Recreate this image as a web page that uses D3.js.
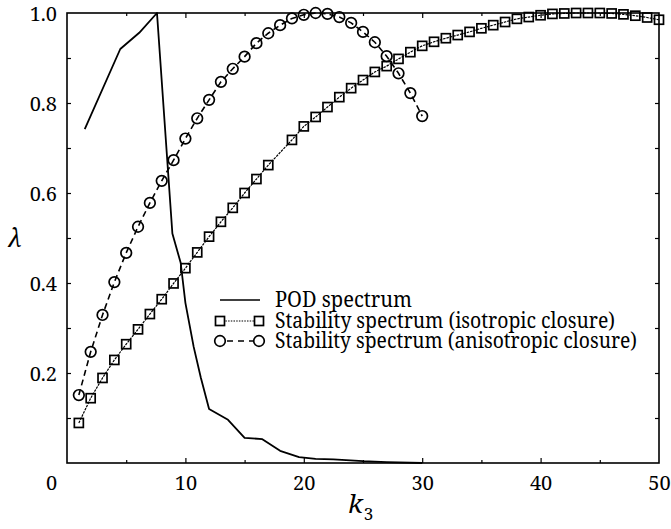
<!DOCTYPE html>
<html>
<head>
<meta charset="utf-8">
<script src="https://cdn.jsdelivr.net/npm/d3@7"></script>
<style>
  html, body { margin: 0; padding: 0; background: #fff; }
  svg { display: block; }
  text { font-family: "Noto Serif", "DejaVu Serif", serif; fill: #000; }
</style>
</head>
<body>
<script>
// ---- data ----
const podK = [1.5, 4.5, 6.1, 7.6, 8.9, 9.6, 10.0, 10.7, 11.3, 12.0, 13.6, 15.0, 16.5, 18.0, 19.6, 21.0, 22.5, 25.0, 27.0, 30.0];
const podV = [0.742, 0.92, 0.956, 1.0, 0.51, 0.445, 0.356, 0.258, 0.19, 0.12, 0.096, 0.056, 0.053, 0.027, 0.013, 0.009, 0.008, 0.004, 0.002, 0.0];

const isoK = [1,2,3,4,5,6,7,8,9,10,11,12,13,14,15,16,17,19,20,21,22,23,24,25,26,27,28,29,30,31,32,33,34,35,36,37,38,39,40,41,42,43,44,45,46,47,48,49,50];
const isoV = [0.089,0.144,0.189,0.229,0.264,0.297,0.331,0.364,0.399,0.433,0.468,0.503,0.536,0.567,0.600,0.631,0.662,0.718,0.748,0.769,0.791,0.813,0.833,0.851,0.869,0.882,0.898,0.913,0.927,0.936,0.944,0.951,0.958,0.966,0.973,0.980,0.987,0.991,0.995,0.998,0.999,1.0,1.0,1.0,0.999,0.997,0.994,0.990,0.985];

const anisoK = [1,2,3,4,5,6,7,8,9,10,11,12,13,14,15,16,17,18,19,20,21,22,23,24,25,26,27,28,29,30];
const anisoV = [0.151,0.247,0.329,0.402,0.467,0.525,0.578,0.627,0.673,0.721,0.766,0.807,0.847,0.876,0.903,0.933,0.955,0.973,0.988,0.996,1.0,0.998,0.991,0.978,0.958,0.935,0.904,0.866,0.822,0.771];

const xMajor = [0, 10, 20, 30, 40, 50];
const xMinor = [5, 15, 25, 35, 45];
const yMajor = [0.2, 0.4, 0.6, 0.8, 1.0];
const yMinor = [0.1, 0.3, 0.5, 0.7, 0.9];
const legendLabels = ["POD spectrum", "Stability spectrum (isotropic closure)", "Stability spectrum (anisotropic closure)"];

// ---- layout ----
const W = 671, H = 529;
const L = 67, R = 659, T = 13, B = 463;
const FONT = '"Noto Serif", "DejaVu Serif", serif';

const svg = d3.select("body").append("svg").attr("width", W).attr("height", H);
const x = d3.scaleLinear().domain([0, 50]).range([L, R]);
const y = d3.scaleLinear().domain([0, 1]).range([B, T]);

// frame
svg.append("rect").attr("x", L).attr("y", T).attr("width", R - L).attr("height", B - T)
  .attr("fill", "none").attr("stroke", "#000").attr("stroke-width", 1.6);

function styleAxis(g) {
  g.attr("font-family", FONT);
  g.select(".domain").remove();
  g.selectAll(".tick line").attr("stroke", "#000").attr("stroke-width", 1.2);
  g.selectAll(".tick text").attr("font-size", 20).attr("fill", "#000");
}

// bottom axis
const gb = svg.append("g").attr("transform", `translate(0,${B})`)
  .call(d3.axisBottom(x).tickValues(xMajor).tickSizeInner(-5).tickSizeOuter(0).tickPadding(13).tickFormat(d3.format("d")));
styleAxis(gb);
gb.selectAll(".tick").filter(d => d === 0).select("text").attr("dx", -16);
gb.selectAll(".tick").filter(d => d === 0 || d === 50).select("line").remove();
const gbm = svg.append("g").attr("transform", `translate(0,${B})`)
  .call(d3.axisBottom(x).tickValues(xMinor).tickSizeInner(-3).tickSizeOuter(0).tickFormat(""));
styleAxis(gbm);
// top axis ticks
const gt = svg.append("g").attr("transform", `translate(0,${T})`)
  .call(d3.axisTop(x).tickValues(xMajor.filter(d => d > 0 && d < 50)).tickSizeInner(-5).tickSizeOuter(0).tickFormat(""));
styleAxis(gt);
const gtm = svg.append("g").attr("transform", `translate(0,${T})`)
  .call(d3.axisTop(x).tickValues(xMinor).tickSizeInner(-3).tickSizeOuter(0).tickFormat(""));
styleAxis(gtm);

// left axis
const gl = svg.append("g").attr("transform", `translate(${L},0)`)
  .call(d3.axisLeft(y).tickValues(yMajor).tickSizeInner(-4).tickSizeOuter(0).tickPadding(10).tickFormat(d3.format(".1f")));
styleAxis(gl);
gl.selectAll(".tick text").attr("dy", "0.36em");
gl.selectAll(".tick").filter(d => d === 1).select("line").remove();
const glm = svg.append("g").attr("transform", `translate(${L},0)`)
  .call(d3.axisLeft(y).tickValues(yMinor).tickSizeInner(-4).tickSizeOuter(0).tickFormat(""));
styleAxis(glm);
// right axis ticks
const gr = svg.append("g").attr("transform", `translate(${R},0)`)
  .call(d3.axisRight(y).tickValues(yMajor.concat(yMinor).filter(d => d < 1)).tickSizeInner(-4).tickSizeOuter(0).tickFormat(""));
styleAxis(gr);

// axis titles
svg.append("text").attr("x", 15).attr("y", 247).attr("text-anchor", "middle")
  .attr("font-size", 25).attr("font-style", "italic").text("λ");
const kt = svg.append("text").attr("x", 348).attr("y", 513).attr("font-size", 26).attr("font-style", "italic");
kt.append("tspan").text("k");
kt.append("tspan").attr("font-style", "normal").attr("font-size", 17).attr("dy", 7).attr("dx", 1).text("3");

// ---- series ----
const line = d3.line().x(d => x(d[0])).y(d => y(d[1]));
const podData = podK.map((k, i) => [k, podV[i]]);
const isoData = isoK.map((k, i) => [k, isoV[i]]);
const anisoData = anisoK.map((k, i) => [k, anisoV[i]]);

const isoDash = "2.5,1";
const anisoDash = "6,4";

svg.append("path").datum(podData).attr("d", line)
  .attr("fill", "none").attr("stroke", "#000").attr("stroke-width", 1.8).attr("stroke-linejoin", "round");

svg.append("path").datum(isoData).attr("d", line)
  .attr("fill", "none").attr("stroke", "#000").attr("stroke-width", 1.2).attr("stroke-dasharray", isoDash);

svg.append("path").datum(anisoData).attr("d", line)
  .attr("fill", "none").attr("stroke", "#000").attr("stroke-width", 1.6).attr("stroke-dasharray", anisoDash);

const S = 9;
svg.append("g").selectAll("rect").data(isoData).join("rect")
  .attr("x", d => x(d[0]) - S / 2).attr("y", d => y(d[1]) - S / 2)
  .attr("width", S).attr("height", S)
  .attr("fill", "none").attr("stroke", "#000").attr("stroke-width", 1.7);

svg.append("g").selectAll("circle").data(anisoData).join("circle")
  .attr("cx", d => x(d[0])).attr("cy", d => y(d[1])).attr("r", 5.3)
  .attr("fill", "none").attr("stroke", "#000").attr("stroke-width", 1.7);

// ---- legend ----
const lg = svg.append("g");
const lx0 = 220, lx1 = 259, ltx = 275;
const rows = [300, 321, 341];
const legendWidths = [137, 340, 362];
legendLabels.forEach((t, i) => {
  lg.append("text").attr("x", ltx).attr("y", rows[i] + 7).attr("font-size", 21)
    .attr("textLength", legendWidths[i]).attr("lengthAdjust", "spacingAndGlyphs").text(t);
});
lg.append("line").attr("x1", lx0).attr("x2", 260).attr("y1", rows[0]).attr("y2", rows[0])
  .attr("stroke", "#000").attr("stroke-width", 1.6);
lg.append("line").attr("x1", lx0).attr("x2", lx1).attr("y1", rows[1]).attr("y2", rows[1])
  .attr("stroke", "#000").attr("stroke-width", 1.2).attr("stroke-dasharray", "1.5,1.2");
[lx0, lx1].forEach(cx => lg.append("rect").attr("x", cx - S / 2).attr("y", rows[1] - S / 2)
  .attr("width", S).attr("height", S).attr("fill", "#fff").attr("stroke", "#000").attr("stroke-width", 1.7));
lg.append("line").attr("x1", lx0).attr("x2", lx1).attr("y1", rows[2]).attr("y2", rows[2])
  .attr("stroke", "#000").attr("stroke-width", 1.6).attr("stroke-dasharray", "6,5").attr("stroke-dashoffset", -7);
[lx0, lx1].forEach(cx => lg.append("circle").attr("cx", cx).attr("cy", rows[2]).attr("r", 5.3)
  .attr("fill", "#fff").attr("stroke", "#000").attr("stroke-width", 1.7));
</script>
</body>
</html>
